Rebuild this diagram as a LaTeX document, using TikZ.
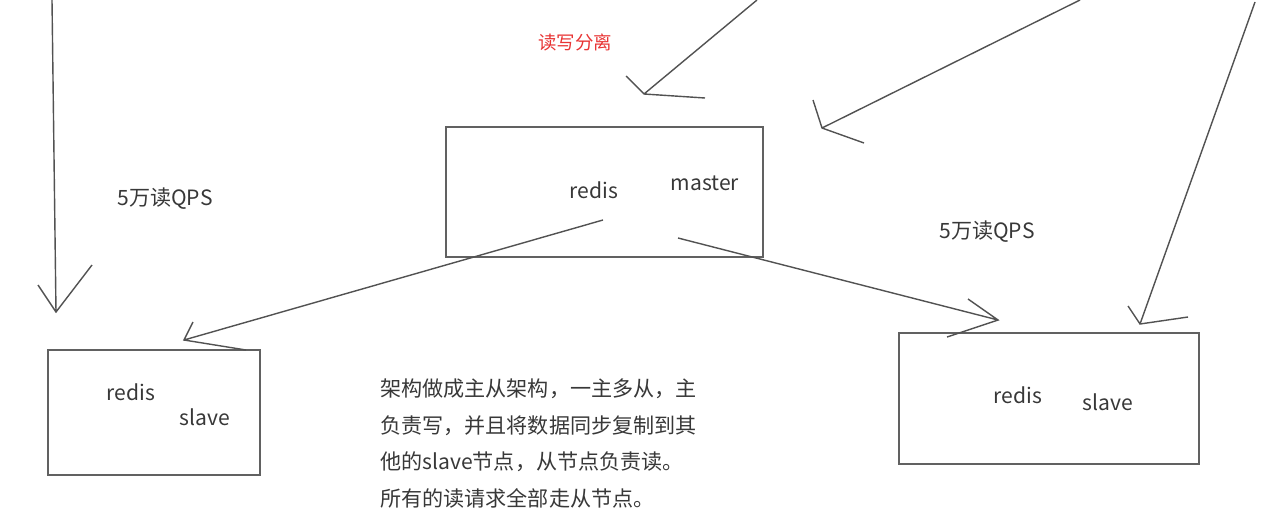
\documentclass[tikz,border=0pt]{standalone}
\usepackage{fontspec}
\setmainfont{Noto Sans CJK SC}
\begin{document}
\begin{tikzpicture}[%
        x=0.02cm, y=-0.02cm,
        line/.style={draw=black!68, line width=0.8pt},
        box/.style={draw=black!62, line width=0.9pt, inner sep=0pt},
        txt/.style={font=\fontsize{12}{14}\selectfont, text=black!78, inner sep=0pt}
    ]
        \useasboundingbox (0,0) rectangle (1273,524);

        % boxes
        \node [box, minimum width=6.34cm, minimum height=2.6cm] (master) at (604.5,192) {};
        \node [box, minimum width=4.24cm, minimum height=2.5cm] (slave1) at (154,412.5) {};
        \node [box, minimum width=6.0cm, minimum height=2.62cm] (slave2) at (1049,398.5) {};

        \node [txt] (m-redis) at (594,190) {redis};
        \node [txt] (m-name) at (705,183) {master};
        \node [txt] (s1-redis) at (131,392) {redis};
        \node [txt] (s1-name) at (205,417) {slave};
        \node [txt] (s2-redis) at (1018,395) {redis};
        \node [txt] (s2-name) at (1108,402) {slave};

        \node [txt] (qps1) at (165,199) {5万读QPS};
        \node [txt] (qps2) at (987,232) {5万读QPS};
        \node [txt, font=\fontsize{10.5}{12}\selectfont, text={rgb,255:red,232;green,52;blue,52}]
            (title) at (575,42) {读写分离};

        \node [txt, anchor=north west, align=left, font=\fontsize{12}{21}\selectfont] (note) at (380,378) {%
            架构做成主从架构，一主多从，主\\
            负责写，并且将数据同步复制到其\\
            他的slave节点，从节点负责读。\\
            所有的读请求全部走从节点。%
        };

        % hand drawn arrows
        \coordinate (a-from) at (52,0);    \coordinate (a-tip) at (56,312);
        \coordinate (a-l) at (38,285);     \coordinate (a-r) at (92,265);
        \coordinate (b-from) at (603,220); \coordinate (b-tip) at (184,340);
        \coordinate (b-l) at (193,322);    \coordinate (b-r) at (246,350);
        \coordinate (c-from) at (678,238); \coordinate (c-tip) at (998,320);
        \coordinate (c-l) at (968,299);    \coordinate (c-r) at (947,337);
        \coordinate (d-from) at (757,0);   \coordinate (d-tip) at (644,94);
        \coordinate (d-l) at (626,76);     \coordinate (d-r) at (705,98);
        \coordinate (e-from) at (1080,0);  \coordinate (e-tip) at (822,128);
        \coordinate (e-l) at (813,100);    \coordinate (e-r) at (864,143);
        \coordinate (f-from) at (1255,2);  \coordinate (f-tip) at (1140,324);
        \coordinate (f-l) at (1128,306);   \coordinate (f-r) at (1188,317);

        \foreach \n in {a,b,c,d,e,f}
            \draw [line] (\n-from) -- (\n-tip) (\n-l) -- (\n-tip) -- (\n-r);
    \end{tikzpicture}
\end{document}
